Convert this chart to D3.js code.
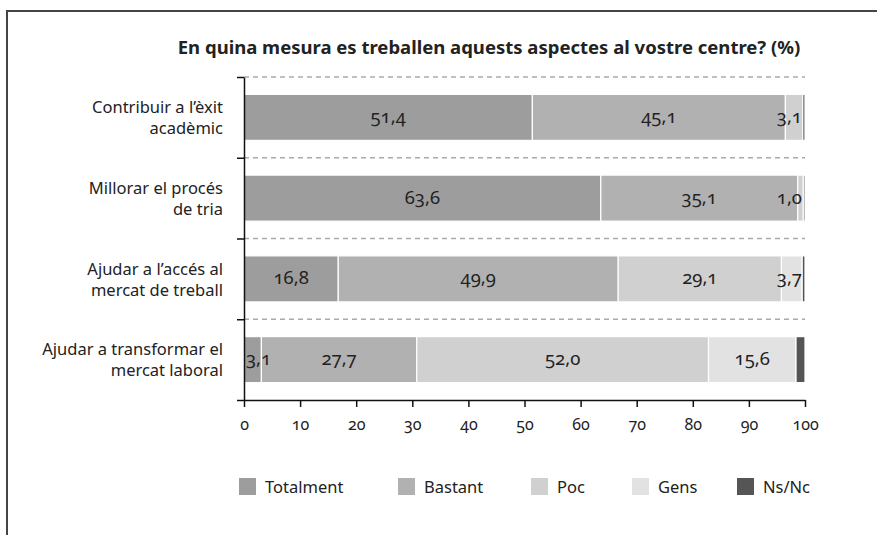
<!DOCTYPE html>
<html>
<head>
<meta charset="utf-8">
<script src="https://cdn.jsdelivr.net/npm/d3@7"></script>
<style>
  body { margin: 0; background: #fff; }
  text { font-family: "Noto Sans", "Open Sans", sans-serif; fill: #222; font-variant-numeric: oldstyle-nums; font-feature-settings: "onum" 1; }
</style>
</head>
<body>
<div id="chart"></div>
<script>
// categories (two lines each) and series values, in %
const categories = [
	["Contribuir a l’èxit", "acadèmic"],
	["Millorar el procés", "de tria"],
	["Ajudar a l’accés al", "mercat de treball"],
	["Ajudar a transformar el", "mercat laboral"]
];
const seriesNames = ["Totalment", "Bastant", "Poc", "Gens", "Ns/Nc"];
const totalment = [51.4, 63.6, 16.8, 3.1];
const bastant = [45.1, 35.1, 49.9, 27.7];
const poc = [3.1, 1.0, 29.1, 52.0];
const gens = [0, 0, 3.7, 15.6];
const nsnc = [0.4, 0.3, 0.5, 1.6];
const xTicks = [0, 10, 20, 30, 40, 50, 60, 70, 80, 90, 100];
const titleText = "En quina mesura es treballen aquests aspectes al vostre centre? (%)";

const colors = ["#9d9d9d", "#b1b1b1", "#d0d0d0", "#e2e2e2", "#555555"];

const width = 877, height = 535;

const svg = d3.select("#chart").append("svg")
	.attr("width", width)
	.attr("height", height);

// outer frame (runs off the right and bottom edge)
svg.append("rect")
	.attr("x", 7).attr("y", 11)
	.attr("width", width).attr("height", height)
	.attr("fill", "none")
	.attr("stroke", "#444")
	.attr("stroke-width", 2);

// title
svg.append("text")
	.attr("x", 489).attr("y", 54)
	.attr("text-anchor", "middle")
	.style("font-size", "18.5px")
	.style("font-weight", "bold")
	.text(titleText);

// build rows for the stack
const rows = categories.map((c, i) => ({
	key: i,
	"Totalment": totalment[i],
	"Bastant": bastant[i],
	"Poc": poc[i],
	"Gens": gens[i],
	"Ns/Nc": nsnc[i]
}));
const stacked = d3.stack().keys(seriesNames)(rows);

const xScale = d3.scaleLinear().domain([0, 100]).range([244, 805]);
const yTop = 77, yBottom = 400;
const yScale = d3.scaleBand()
	.domain(d3.range(categories.length))
	.range([yTop, yBottom])
	.paddingInner(0.43)
	.paddingOuter(0.215);
const yEdge = d3.scaleLinear().domain([0, categories.length]).range([yTop, yBottom]);

// dashed grid lines at band edges
svg.append("g").selectAll("line")
	.data(d3.range(categories.length))
	.join("line")
	.attr("x1", xScale(0)).attr("x2", xScale(100))
	.attr("y1", d => yEdge(d)).attr("y2", d => yEdge(d))
	.attr("stroke", "#aaa")
	.attr("stroke-width", 1.3)
	.attr("stroke-dasharray", "5,4");

// bars
const layers = svg.append("g").selectAll("g")
	.data(stacked)
	.join("g")
	.attr("fill", (d, i) => colors[i]);

layers.selectAll("rect")
	.data(d => d)
	.join("rect")
	.attr("x", d => xScale(d[0]))
	.attr("y", (d, i) => yScale(i))
	.attr("width", d => Math.max(0, xScale(d[1]) - xScale(d[0])))
	.attr("height", yScale.bandwidth())
	.attr("stroke", "#fff")
	.attr("stroke-width", d => (d[1] - d[0]) > 0 ? 1.2 : 0);

// value labels
const fmt = v => d3.format(".1f")(v).replace(".", ",");
const labelG = svg.append("g");
stacked.forEach((layer, si) => {
	if (seriesNames[si] === "Ns/Nc") return;
	layer.forEach((d, i) => {
		const v = d[1] - d[0];
		if (v < 0.95) return;
		const cx = xScale((d[0] + d[1]) / 2);
		const t = labelG.append("text")
			.attr("x", cx)
			.attr("y", yScale(i) + yScale.bandwidth() / 2 - 1)
			.attr("dy", "0.35em")
			.attr("text-anchor", "middle")
			.style("font-size", "18.5px")
			.text(fmt(v));
		const w = t.node().getComputedTextLength();
		// keep small labels inside the bar area
		if (cx - w / 2 < xScale(0) + 2) t.attr("x", xScale(0) + 2 + w / 2);
		if (cx + w / 2 > xScale(100) - 3) t.attr("x", xScale(100) - 3 - w / 2);
	});
});

// y axis (ticks at band edges)
const yAxis = d3.axisLeft(yEdge)
	.tickValues(d3.range(categories.length + 1))
	.tickFormat("")
	.tickSize(7)
	.tickSizeOuter(0);
svg.append("g")
	.attr("class", "axis y-axis")
	.attr("transform", `translate(${xScale(0)},0)`)
	.call(yAxis)
	.call(g => g.selectAll("line, path").attr("stroke", "#111").attr("stroke-width", 1.5));

// x axis
const xAxis = d3.axisBottom(xScale)
	.tickValues(xTicks)
	.tickSize(7)
	.tickSizeOuter(0)
	.tickPadding(12);
svg.append("g")
	.attr("class", "axis x-axis")
	.attr("transform", `translate(0,${yBottom})`)
	.call(xAxis)
	.call(g => g.selectAll("line, path").attr("stroke", "#111").attr("stroke-width", 1.5))
	.call(g => g.selectAll("text")
		.style("font-family", "\"Noto Sans\", sans-serif")
		.style("font-size", "16px")
		.attr("fill", "#222"));

// category labels
const catG = svg.append("g");
categories.forEach((lines, i) => {
	const cy = yScale(i) + yScale.bandwidth() / 2;
	const t = catG.append("text")
		.attr("text-anchor", "end")
		.style("font-size", "16.5px");
	lines.forEach((ln, j) => {
		t.append("tspan")
			.attr("x", 223)
			.attr("y", cy + (j === 0 ? -10 : 11))
			.attr("dy", "0.35em")
			.text(ln);
	});
});

// legend
const legendX = [239, 398, 531, 632, 737];
const legend = svg.append("g").selectAll("g")
	.data(seriesNames)
	.join("g")
	.attr("transform", (d, i) => `translate(${legendX[i]},478)`);
legend.append("rect")
	.attr("width", 17).attr("height", 17)
	.attr("fill", (d, i) => colors[i]);
legend.append("text")
	.attr("x", 26).attr("y", 9)
	.attr("dy", "0.35em")
	.style("font-size", "16.5px")
	.text(d => d);
</script>
</body>
</html>
